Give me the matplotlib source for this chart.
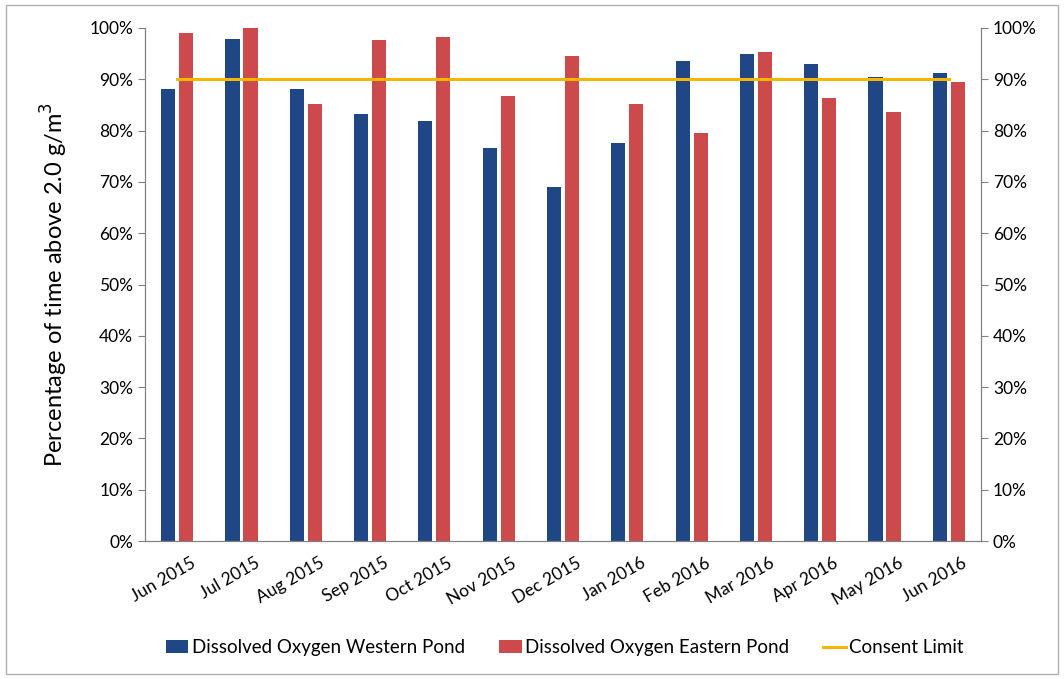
import numpy as np
import matplotlib
matplotlib.use("Agg")
import matplotlib.pyplot as plt
from matplotlib.patches import Rectangle
from matplotlib.ticker import PercentFormatter

months = ["Jun 2015", "Jul 2015", "Aug 2015", "Sep 2015", "Oct 2015", "Nov 2015",
          "Dec 2015", "Jan 2016", "Feb 2016", "Mar 2016", "Apr 2016", "May 2016", "Jun 2016"]
western = [88.1, 97.8, 88.2, 83.2, 81.9, 76.7, 69.1, 77.5, 93.6, 95.0, 92.9, 90.4, 91.3]
eastern = [99.0, 100.0, 85.2, 97.7, 98.3, 86.8, 94.5, 85.1, 79.5, 95.4, 86.3, 83.7, 89.5]
consent = [90] * len(months)

plt.rcParams['font.family'] = ['Lato', 'DejaVu Sans']

fig = plt.figure(figsize=(10.64, 6.79), dpi=100)
ax = fig.add_axes([0.1363, 0.2032, 0.7857, 0.7556])

x = np.arange(len(months))
w = 0.22
b1 = ax.bar(x - 0.14, western, w, color='#1f4685', label='Dissolved Oxygen Western Pond')
b2 = ax.bar(x + 0.14, eastern, w, color='#cc4a4c', label='Dissolved Oxygen Eastern Pond')
ln, = ax.plot(x, consent, color='#f5b800', lw=2.2, label='Consent Limit')

ax.set_xlim(-0.5, len(months) - 0.5)
ax.set_ylim(0, 100)
ax.set_yticks(np.arange(0, 101, 10))
ax.yaxis.set_major_formatter(PercentFormatter(decimals=0))
ax.set_xticks(x + 0.2)
ax.set_xticklabels(months, rotation=30, ha='right', rotation_mode='anchor', fontsize=12.5)
ax.tick_params(axis='x', length=0, pad=10)
ax.tick_params(axis='y', labelsize=12.5, length=5, color='#808080', direction='out')
ax.set_ylabel('Percentage of time above 2.0 g/m$^3$', fontsize=17, labelpad=14)

ax2 = ax.twinx()
ax2.set_ylim(0, 100)
ax2.set_yticks(np.arange(0, 101, 10))
ax2.yaxis.set_major_formatter(PercentFormatter(decimals=0))
ax2.tick_params(axis='y', labelsize=12.5, length=5, color='#808080', direction='out')

for a in (ax, ax2):
    a.spines['top'].set_visible(False)
    for s in ('left', 'right', 'bottom'):
        a.spines[s].set_color('#808080')

fig.legend([b1, b2, ln], [b1.get_label(), b2.get_label(), ln.get_label()],
           loc='center', bbox_to_anchor=(0.531, 0.046), ncol=3, frameon=False,
           fontsize=13.5, handlelength=1.2, handleheight=0.7, handletextpad=0.2, columnspacing=1.8)

fig.add_artist(Rectangle((0.006, 0.008), 0.988, 0.984, transform=fig.transFigure,
                         fill=False, edgecolor='#b0b0b0', lw=1))

fig.savefig('out.png', dpi=100)
